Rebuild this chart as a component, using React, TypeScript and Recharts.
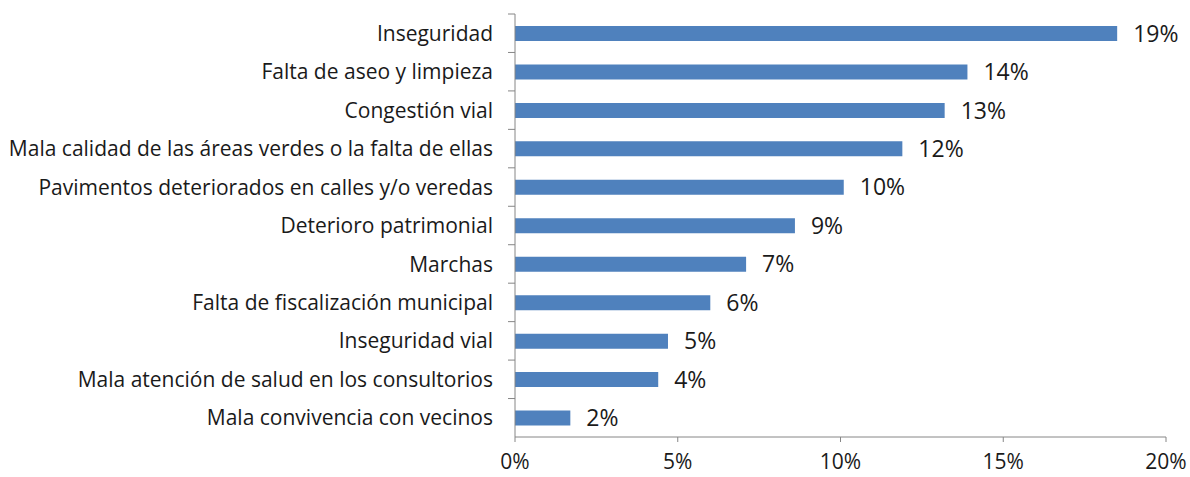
import React from 'react';
import { BarChart, Bar, XAxis, YAxis, LabelList } from 'recharts';

const categories = [
  'Inseguridad',
  'Falta de aseo y limpieza',
  'Congestión vial',
  'Mala calidad de las áreas verdes o la falta de ellas',
  'Pavimentos deteriorados en calles y/o veredas',
  'Deterioro patrimonial',
  'Marchas',
  'Falta de fiscalización municipal',
  'Inseguridad vial',
  'Mala atención de salud en los consultorios',
  'Mala convivencia con vecinos',
];

const values = [18.5, 13.9, 13.2, 11.9, 10.1, 8.6, 7.1, 6.0, 4.7, 4.4, 1.7];

const xTicks = [0, 5, 10, 15, 20];

const data = categories.map((name, i) => ({ name, value: values[i] }));

const FONT = '"Open Sans", "Noto Sans", sans-serif';
const AXIS = '#868686';
const TOP = 14;
const BOTTOM_AXIS = 40;
const HEIGHT = 477;
const BAND = (HEIGHT - TOP - BOTTOM_AXIS) / categories.length;

const CategoryTick = (props: any) => {
  const { x, y, payload } = props;
  const axisX = x;
  const top = y - BAND / 2;
  return (
    <g>
      <line x1={axisX - 7} y1={top} x2={axisX} y2={top} stroke={AXIS} strokeWidth={1} />
      <text x={axisX - 22} y={y} dy="0.36em" textAnchor="end" fontSize={21} fill="#1a1a1a" fontFamily={FONT}>
        {payload.value}
      </text>
    </g>
  );
};

const App: React.FC = () => (
  <div style={{ position: 'absolute', left: 0, top: 0, background: '#fff', width: 1190, height: 477 }}>
    <BarChart
      width={1190}
      height={HEIGHT}
      data={data}
      layout="vertical"
      margin={{ top: TOP, right: 24, bottom: 0, left: 0 }}
    >
      <XAxis
        type="number"
        domain={[0, 20]}
        ticks={xTicks}
        tickFormatter={(v: number) => `${v}%`}
        height={BOTTOM_AXIS}
        stroke={AXIS}
        tickSize={5}
        tickMargin={12}
        tick={{ fill: '#1a1a1a', fontSize: 21, fontFamily: FONT }}
      />
      <YAxis
        type="category"
        dataKey="name"
        width={515}
        stroke={AXIS}
        tickLine={false}
        tickSize={0}
        tickMargin={0}
        interval={0}
        tick={<CategoryTick />}
      />
      <Bar dataKey="value" fill="#4F81BD" barSize={15} isAnimationActive={false}>
        <LabelList
          dataKey="value"
          position="right"
          offset={16}
          formatter={(v: any) => `${Math.round(Number(v))}%`}
          style={{ fill: '#1a1a1a', fontSize: 23, fontFamily: FONT }}
        />
      </Bar>
    </BarChart>
  </div>
);

export default App;
